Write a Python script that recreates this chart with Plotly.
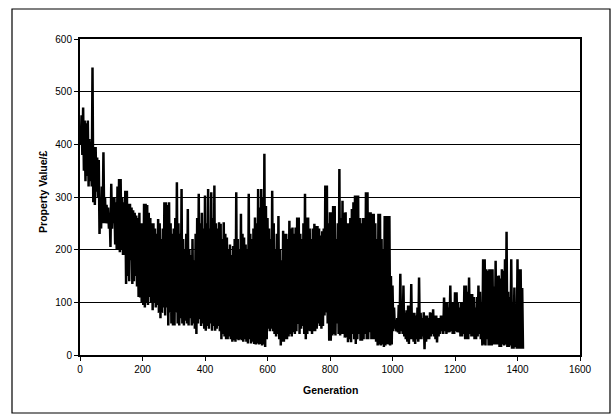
import numpy as np
import plotly.graph_objects as go

# Best-individual property value, summarised per block of 5 generations:
# the highest and the lowest value reached inside each block.
block_size = 5
block_high = [
    420, 455, 470, 445, 440, 445, 410, 405, 546, 395, 395, 375, 370, 300, 320, 385, 300, 285, 280, 270,
    325, 300, 300, 290, 320, 334, 334, 300, 290, 312, 312, 287, 287, 280, 275, 270, 265, 260, 270, 250,
    250, 287, 287, 285, 270, 260, 250, 250, 240, 230, 258, 250, 220, 240, 290, 290, 285, 290, 250, 230,
    240, 260, 328, 250, 230, 315, 220, 200, 230, 277, 200, 190, 220, 180, 230, 260, 306, 250, 270, 240,
    303, 250, 315, 240, 309, 260, 322, 250, 240, 252, 249, 220, 252, 230, 223, 200, 210, 190, 207, 220,
    309, 220, 200, 268, 230, 223, 210, 200, 306, 230, 220, 240, 261, 250, 315, 280, 315, 300, 382, 283,
    260, 240, 220, 312, 250, 200, 230, 264, 200, 180, 236, 230, 230, 220, 255, 240, 242, 230, 242, 261,
    261, 230, 220, 250, 306, 261, 261, 240, 220, 240, 249, 245, 245, 240, 227, 235, 240, 322, 322, 250,
    271, 271, 283, 283, 220, 250, 353, 260, 293, 270, 271, 250, 250, 260, 277, 290, 303, 303, 303, 260,
    250, 260, 260, 309, 309, 271, 271, 268, 268, 250, 220, 268, 268, 220, 200, 264, 264, 264, 264, 150,
    132, 90, 65, 70, 95, 154, 100, 132, 80, 85, 94, 94, 135, 80, 80, 75, 90, 147, 80, 70,
    81, 75, 75, 70, 81, 80, 87, 75, 75, 70, 70, 75, 75, 109, 100, 100, 90, 132, 100, 100,
    119, 119, 100, 90, 100, 100, 132, 132, 120, 147, 116, 116, 110, 90, 110, 132, 120, 100, 182, 182,
    163, 160, 163, 163, 163, 130, 179, 150, 151, 145, 163, 160, 182, 234, 120, 110, 182, 100, 128, 90,
    182, 163, 163, 127,
]
block_low = [
    400, 380, 350, 330, 340, 320, 330, 320, 290, 285, 310, 300, 230, 240, 250, 250, 250, 250, 240, 205,
    240, 250, 210, 200, 200, 195, 200, 190, 190, 135, 150, 140, 180, 135, 140, 150, 130, 110, 109, 100,
    95, 90, 100, 95, 110, 100, 85, 100, 90, 95, 80, 70, 80, 90, 75, 90, 56, 80, 60, 56,
    56, 80, 60, 56, 70, 60, 56, 65, 60, 56, 70, 56, 60, 50, 40, 60, 68, 55, 60, 50,
    46, 55, 50, 60, 46, 55, 46, 50, 55, 45, 30, 40, 35, 30, 30, 35, 30, 25, 28, 25,
    30, 28, 30, 28, 25, 30, 25, 22, 30, 22, 25, 21, 20, 22, 20, 21, 18, 20, 15, 30,
    50, 45, 50, 45, 40, 35, 40, 30, 18, 25, 25, 30, 30, 35, 40, 35, 43, 40, 45, 59,
    40, 50, 55, 40, 30, 40, 46, 45, 40, 45, 45, 50, 60, 55, 50, 55, 75, 80, 60, 27,
    27, 37, 40, 37, 60, 40, 37, 40, 40, 33, 33, 24, 30, 24, 40, 30, 21, 30, 40, 27,
    27, 30, 40, 30, 30, 43, 30, 30, 30, 25, 18, 20, 18, 20, 15, 18, 21, 20, 18, 20,
    45, 50, 45, 43, 40, 45, 40, 35, 30, 25, 21, 30, 30, 25, 21, 30, 25, 30, 30, 35,
    11, 25, 30, 30, 35, 40, 35, 30, 24, 35, 40, 45, 40, 45, 40, 43, 43, 45, 40, 40,
    45, 43, 43, 35, 35, 40, 30, 30, 30, 40, 35, 35, 30, 30, 35, 40, 30, 18, 20, 18,
    30, 18, 18, 18, 20, 20, 20, 20, 15, 15, 20, 18, 20, 15, 15, 18, 12, 12, 15, 12,
    12, 12, 12, 12,
]

x_ticks = [0, 200, 400, 600, 800, 1000, 1200, 1400, 1600]
y_ticks = [0, 100, 200, 300, 400, 500, 600]

# Rebuild the oscillating trace: high at the start of each block, low half-way through
block_start = np.arange(len(block_high)) * block_size
generation = np.empty(2 * len(block_high))
generation[0::2] = block_start
generation[1::2] = block_start + block_size / 2
value = np.empty(2 * len(block_high))
value[0::2] = block_high
value[1::2] = block_low

fig = go.Figure()
fig.add_trace(go.Scatter(
    x=generation, y=value, mode="lines",
    line=dict(color="black", width=2.5),
    showlegend=False, hoverinfo="skip",
))

tick_font = dict(family="Liberation Sans, Arial, sans-serif", size=10, color="black")
title_font = dict(family="Liberation Sans, Arial, sans-serif", size=10.5, color="black")

fig.update_layout(
    width=615, height=416,
    margin=dict(l=80, r=35, t=39, b=61),
    paper_bgcolor="white", plot_bgcolor="white",
    font=tick_font,
    xaxis=dict(
        range=[0, 1600], tickvals=x_ticks, ticktext=[str(v) for v in x_ticks],
        showgrid=False, zeroline=False,
        showline=True, linecolor="black", linewidth=2, mirror=True,
        ticks="outside", ticklen=4, tickwidth=1, tickcolor="black",
        tickfont=tick_font,
    ),
    yaxis=dict(
        range=[0, 600], tickvals=y_ticks, ticktext=[str(v) for v in y_ticks],
        showgrid=True, gridcolor="black", gridwidth=1, zeroline=False,
        showline=True, linecolor="black", linewidth=2, mirror=True,
        ticks="outside", ticklen=4, tickwidth=1, tickcolor="black",
        tickfont=tick_font,
    ),
    annotations=[
        dict(text="<b>Generation</b>", xref="paper", yref="paper",
             x=0.5, y=-0.111, xanchor="center", yanchor="middle",
             showarrow=False, font=title_font),
        dict(text="<b>Property Value/£</b>", xref="paper", yref="paper",
             x=-0.074, y=0.516, xanchor="center", yanchor="middle",
             textangle=-90, showarrow=False, font=title_font),
    ],
    shapes=[
        # chart-area frame around everything
        dict(type="rect", xref="paper", yref="paper",
             x0=-0.136, x1=1.06, y0=-0.1835, y1=1.0949,
             line=dict(color="black", width=1.2), fillcolor="rgba(0,0,0,0)",
             layer="below"),
    ],
)

fig.write_html("out.html")
